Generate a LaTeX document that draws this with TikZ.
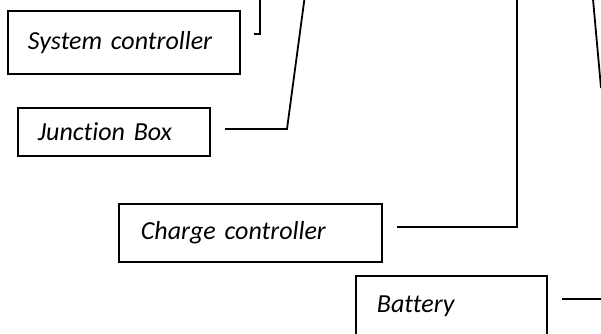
\documentclass[tikz,border=0pt]{standalone}
\usepackage{fontspec}
\setmainfont{Carlito}[Ligatures={NoCommon,NoRare,NoContextual}]
\tikzset{
  box/.style={draw, line width=1.8pt, rectangle, anchor=north west, align=left,
    font=\fontsize{26}{30}\selectfont\itshape, inner ysep=0pt},
  wire/.style={line width=1.8pt},
}
\begin{document}
\begin{tikzpicture}[x=1pt,y=-1pt]
\useasboundingbox (0,0) rectangle (601,333);
\node[box, minimum width=232pt, minimum height=63pt, inner xsep=20pt, text width=192pt] (sc) at (7,10) {System controller};
\node[box, minimum width=192pt, minimum height=48pt, inner xsep=20pt, text width=152pt] (jb) at (17,107) {Junction Box};
\node[box, minimum width=263pt, minimum height=58pt, inner xsep=22pt, text width=219pt] (cc) at (118,203) {Charge controller};
\node[box, minimum width=191pt, minimum height=60pt, inner xsep=21pt, text width=149pt] (bat) at (355,275) {Battery};
% free ends of the connectors
\coordinate (sca) at (254,34);
\coordinate (scb) at (260,34);
\coordinate (sct) at (260,-3);
\coordinate (jba) at (225,129);
\coordinate (jbb) at (287,129);
\coordinate (jbt) at (304.7,-3);
\coordinate (cca) at (397,227);
\coordinate (ccb) at (517,227);
\coordinate (cct) at (517,-3);
\coordinate (bata) at (562,299);
\coordinate (batb) at (604,299);
\coordinate (rt) at (592.8,-3);
\coordinate (rb) at (601,88);
\draw[wire] (sca) -- (scb) -- (sct);
\draw[wire] (jba) -- (jbb) -- (jbt);
\draw[wire] (cca) -- (ccb) -- (cct);
\draw[wire] (bata) -- (batb);
\draw[wire] (rt) -- (rb);
\end{tikzpicture}
\end{document}
